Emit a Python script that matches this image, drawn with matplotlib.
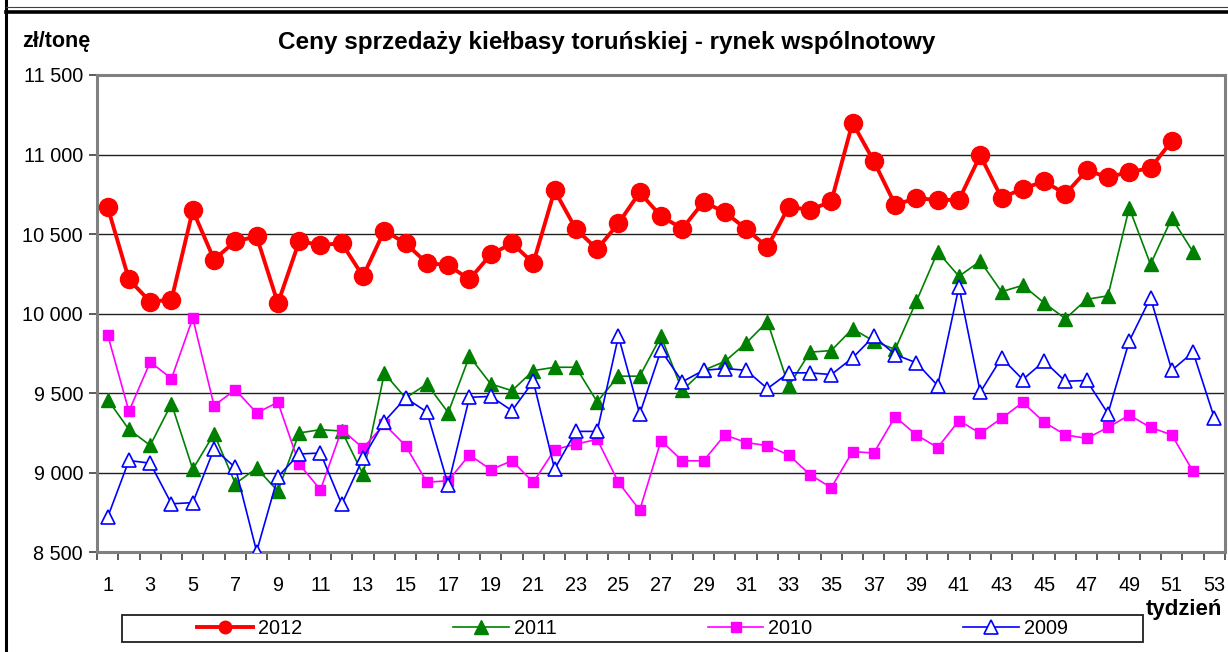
import matplotlib
matplotlib.use("Agg")
import matplotlib.pyplot as plt
from matplotlib.lines import Line2D
from matplotlib.patches import Rectangle

plt.rcParams['font.family'] = ['Liberation Sans', 'DejaVu Sans']

weeks_2012 = list(range(1, 52))
vals_2012 = [10670, 10215, 10075, 10088, 10650, 10340, 10455, 10485, 10065, 10455,
             10432, 10442, 10235, 10522, 10442, 10318, 10305, 10215, 10372, 10442,
             10318, 10775, 10532, 10405, 10568, 10762, 10612, 10535, 10702, 10638,
             10532, 10418, 10672, 10652, 10705, 11200, 10958, 10685, 10725, 10715,
             10715, 10995, 10728, 10785, 10832, 10752, 10900, 10858, 10890, 10915,
             11085]

weeks_2011 = list(range(1, 53))
vals_2011 = [9460, 9272, 9172, 9434, 9022, 9245, 8932, 9028, 8885, 9250,
             9271, 9262, 8990, 9625, 9470, 9558, 9378, 9732, 9558, 9516,
             9642, 9663, 9663, 9446, 9607, 9607, 9857, 9518, 9644, 9700,
             9815, 9950, 9545, 9758, 9768, 9905, 9827, 9775, 10078, 10388,
             10235, 10330, 10138, 10178, 10068, 9968, 10090, 10112, 10665, 10310,
             10600, 10388]

weeks_2010 = list(range(1, 53))
vals_2010 = [9868, 9386, 9696, 9592, 9972, 9422, 9522, 9376, 9443, 9054,
             8893, 9271, 9155, 9305, 9170, 8940, 8950, 9112, 9020, 9075,
             8940, 9145, 9180, 9210, 8940, 8765, 9202, 9075, 9075, 9238,
             9190, 9170, 9112, 8988, 8906, 9133, 9124, 9352, 9238, 9158,
             9328, 9248, 9342, 9442, 9318, 9238, 9216, 9285, 9362, 9285,
             9238, 9008]

weeks_2009 = list(range(1, 54))
vals_2009 = [8720, 9077, 9060, 8805, 8812, 9150, 9033, 8505, 8975, 9118,
             9124, 8802, 9092, 9322, 9470, 9382, 8924, 9474, 9480, 9390,
             9575, 9023, 9260, 9260, 9858, 9370, 9770, 9572, 9644, 9655,
             9644, 9529, 9628, 9628, 9617, 9722, 9858, 9743, 9691, 9548,
             10170, 9506, 9722, 9586, 9701, 9575, 9580, 9372, 9827, 10100,
             9644, 9758, 9344]

series_labels = ["2012", "2011", "2010", "2009"]
y_ticks = [8500, 9000, 9500, 10000, 10500, 11000, 11500]
y_tick_labels = ["8 500", "9 000", "9 500", "10 000", "10 500", "11 000", "11 500"]
x_tick_pos = list(range(1, 54, 2))

W, H = 1228, 652
fig = plt.figure(figsize=(W / 100, H / 100), dpi=100)
ax = fig.add_axes([97 / W, 1 - 552.3 / H, (1225 - 97) / W, (552.3 - 75) / H])

style12 = dict(color='#FF0000', lw=2.8, marker='o', markerfacecolor='#FF0000', markeredgecolor='#FF0000')
style11 = dict(color='#008000', lw=1.2, marker='^', markerfacecolor='#008000', markeredgecolor='#008000')
style10 = dict(color='#FF00FF', lw=1.2, marker='s', markerfacecolor='#FF00FF', markeredgecolor='#FF00FF')
style09 = dict(color='#0000FF', lw=1.2, marker='^', markerfacecolor='white', markeredgecolor='#0000FF',
               markeredgewidth=1.2)

ax.plot(weeks_2012, vals_2012, markersize=13, zorder=6, **style12)
ax.plot(weeks_2011, vals_2011, markersize=9.5, zorder=3, **style11)
ax.plot(weeks_2010, vals_2010, markersize=7.5, zorder=4, **style10)
ax.plot(weeks_2009, vals_2009, markersize=10, zorder=5, **style09)

ax.set_xlim(0.5, 53.5)
ax.set_ylim(8500, 11500)
ax.set_yticks(y_ticks)
ax.set_yticklabels(y_tick_labels, fontsize=14.3)
ax.set_xticks(x_tick_pos)
ax.set_xticklabels([str(v) for v in x_tick_pos], fontsize=14.3)
ax.set_xticks([i + 0.5 for i in range(0, 54)], minor=True)
ax.tick_params(axis='x', which='major', length=0, pad=17)
ax.tick_params(axis='x', which='minor', length=6, width=1.2, color='#404040', direction='out')
ax.tick_params(axis='y', which='major', length=6, width=1.2, color='#404040', direction='out', pad=4)

for yv in y_ticks[1:-1]:
    ax.axhline(yv, color='#202020', lw=1, zorder=1)
for s in ax.spines.values():
    s.set_color('#808080')
    s.set_linewidth(2.2)

# Texts
fig.text(607 / W, 1 - 43 / H, "Ceny sprzedaży kiełbasy toruńskiej - rynek wspólnotowy",
         ha='center', va='center', fontsize=17.5, fontweight='bold')
fig.text(22 / W, 1 - 41 / H, "zł/tonę", ha='left', va='center', fontsize=15.5, fontweight='bold')
fig.text(1222 / W, 1 - 609 / H, "tydzień", ha='right', va='center', fontsize=16, fontweight='bold')

# Legend box
lx0, lx1, ly0, ly1 = 122, 1143, 615, 642
fig.patches.append(Rectangle((lx0 / W, 1 - ly1 / H), (lx1 - lx0) / W, (ly1 - ly0) / H,
                             transform=fig.transFigure, facecolor='white',
                             edgecolor='#202020', lw=1.3, zorder=1))
proxies = [Line2D([], [], markersize=9, **style12),
           Line2D([], [], markersize=9.5, **style11),
           Line2D([], [], markersize=7.5, **style10),
           Line2D([], [], markersize=10, **style09)]
colw = (lx1 - lx0) / 4
for i, (h, lab) in enumerate(zip(proxies, series_labels)):
    cx = (lx0 + colw * (i + 0.5)) / W
    leg = fig.legend([h], [lab], loc='center', bbox_to_anchor=(cx, 1 - (ly0 + ly1) / 2 / H),
                     frameon=False, fontsize=14.3, handlelength=2.8, handletextpad=0.25,
                     borderpad=0, borderaxespad=0)
    leg.set_zorder(5)

# Page border lines
fig.add_artist(Line2D([6 / W, 6 / W], [0, 1], transform=fig.transFigure, color='black', lw=2.2))
fig.add_artist(Line2D([6 / W, 1], [1 - 11.5 / H, 1 - 11.5 / H], transform=fig.transFigure,
                      color='black', lw=2.6))
fig.add_artist(Line2D([6 / W, 1], [1 - 6.5 / H, 1 - 6.5 / H], transform=fig.transFigure,
                      color='#404040', lw=0.8))

fig.savefig("out.png", dpi=100)
